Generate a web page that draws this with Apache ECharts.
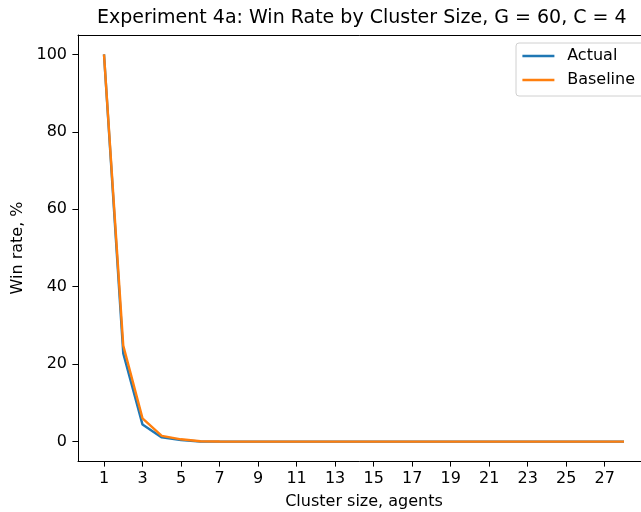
<!DOCTYPE html>
<html><head><meta charset="utf-8">
<script src="https://cdn.jsdelivr.net/npm/echarts@6/dist/echarts.min.js"></script>
<style>html,body{margin:0;padding:0;background:#fff}#c{width:641px;height:512px}</style>
</head><body><div id="c"></div>
<script>
const clusterSizes = [1,2,3,4,5,6,7,8,9,10,11,12,13,14,15,16,17,18,19,20,21,22,23,24,25,26,27,28];
const actual   = [100,22.8,4.4,1.1,0.4,0.05,0,0,0,0,0,0,0,0,0,0,0,0,0,0,0,0,0,0,0,0,0,0];
const baseline = [100,24.8,6.0,1.5,0.6,0.1,0.02,0,0,0,0,0,0,0,0,0,0,0,0,0,0,0,0,0,0,0,0,0];
const xTicks = [1,3,5,7,9,11,13,15,17,19,21,23,25,27];
const yTicks = [0,20,40,60,80,100];

const FONT = 'DejaVu Sans';
const chart = echarts.init(document.getElementById('c'), null, {renderer:'canvas'});
const pair = arr => clusterSizes.map((x,i)=>[x,arr[i]]);
const X_MIN = -0.35, X_MAX = 29.35;
chart.setOption({
  animation:false,
  backgroundColor:'#fff',
  title:{text:'Experiment 4a: Win Rate by Cluster Size, G = 60, C = 4', left:92, top:4,
    textStyle:{fontFamily:FONT,fontSize:19,fontWeight:'normal',color:'#000'}},
  legend:{orient:'vertical', left:516, top:43, padding:[5,20,8,6.4], itemGap:8, itemWidth:32, itemHeight:2.4, icon:'rect',
    borderColor:'#d0d0d0', borderWidth:1, borderRadius:3, backgroundColor:'rgba(255,255,255,0.8)',
    textStyle:{fontFamily:FONT,fontSize:16,color:'#000',padding:[0,0,0,7.8]},
    data:['Actual','Baseline']},
  grid:{left:78, top:35, width:572, height:426, show:false, containLabel:false, outerBoundsMode:'none'},
  xAxis:[{type:'value', min:X_MIN, max:X_MAX,
    name:'Cluster size, agents', nameLocation:'middle', nameGap:33,
    nameTextStyle:{fontFamily:FONT,fontSize:16,color:'#000'},
    axisLine:{show:true,onZero:false,lineStyle:{color:'#000',width:1}},
    axisTick:{show:true,length:5.6,lineStyle:{color:'#000'},customValues:xTicks},
    axisLabel:{fontFamily:FONT,fontSize:16,color:'#000',margin:10,customValues:xTicks},
    splitLine:{show:false}},
   {type:'value', position:'top', min:X_MIN, max:X_MAX,
    axisLine:{show:true,onZero:false,lineStyle:{color:'#000',width:1}},
    axisTick:{show:false}, axisLabel:{show:false}, splitLine:{show:false}}],
  yAxis:{type:'value', min:-5, max:105,
    name:'Win rate, %', nameLocation:'middle', nameGap:52, nameRotate:90,
    nameTextStyle:{fontFamily:FONT,fontSize:16,color:'#000'},
    axisLine:{show:true,onZero:false,lineStyle:{color:'#000',width:1}},
    axisTick:{show:true,length:5.6,lineStyle:{color:'#000'},customValues:yTicks},
    axisLabel:{fontFamily:FONT,fontSize:16,color:'#000',margin:11,customValues:yTicks},
    splitLine:{show:false}},
  series:[
    {name:'Actual',type:'line',data:pair(actual),showSymbol:false,color:'#1f77b4',lineStyle:{width:2.4,color:'#1f77b4'}},
    {name:'Baseline',type:'line',data:pair(baseline),showSymbol:false,color:'#ff7f0e',lineStyle:{width:2.4,color:'#ff7f0e'}}
  ]
});
</script></body></html>
